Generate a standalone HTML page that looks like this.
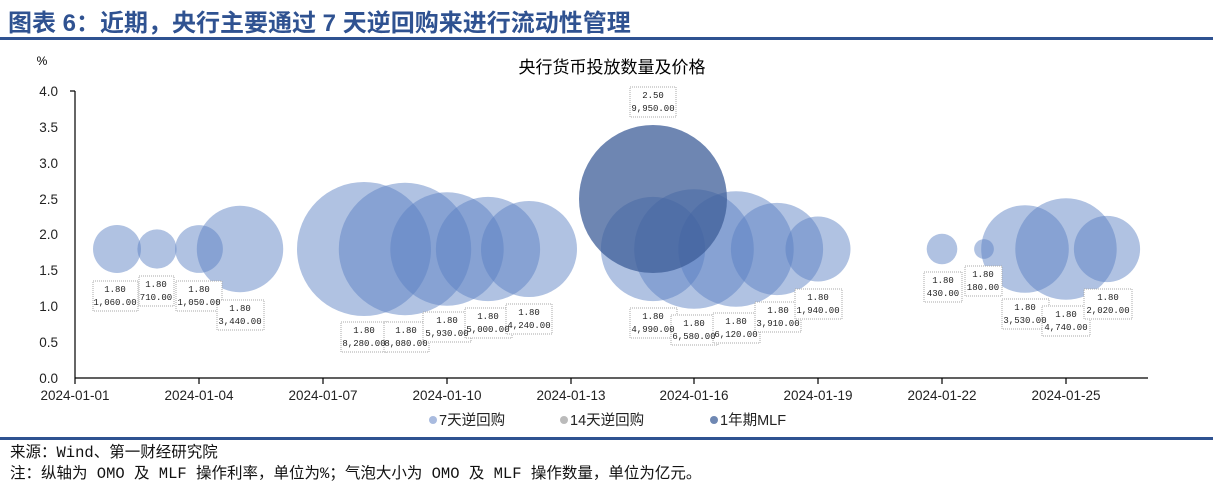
<!DOCTYPE html>
<html><head><meta charset="utf-8"><style>
body{margin:0;background:#fff;width:1213px;height:490px;overflow:hidden;font-family:"Liberation Sans","Noto Sans CJK SC",sans-serif}
</style></head><body>
<svg width="1213" height="490" xmlns="http://www.w3.org/2000/svg" font-family="Liberation Sans, Noto Sans CJK SC, sans-serif">
<text x="8" y="31" font-size="24" font-weight="bold" fill="#2f5291">图表 6：近期，央行主要通过 7 天逆回购来进行流动性管理</text>
<rect x="0" y="37" width="1213" height="3" fill="#2f5291"/>
<text x="612" y="73" font-size="17" text-anchor="middle" fill="#000">央行货币投放数量及价格</text>
<text x="42" y="65" font-size="12" text-anchor="middle">%</text>
<g font-size="13.5" text-anchor="end" fill="#222">
<text x="58" y="96">4.0</text><text x="58" y="132">3.5</text><text x="58" y="168">3.0</text><text x="58" y="204">2.5</text><text x="58" y="239">2.0</text><text x="58" y="275">1.5</text><text x="58" y="311">1.0</text><text x="58" y="347">0.5</text><text x="58" y="383">0.0</text>
</g>
<g stroke="#000" stroke-width="1.2">
<line x1="75" y1="91" x2="75" y2="378"/><line x1="70" y1="91" x2="75" y2="91"/>
<line x1="75" y1="378" x2="1148" y2="378"/>
<line x1="75" y1="378" x2="75" y2="384"/><line x1="199" y1="378" x2="199" y2="384"/><line x1="323" y1="378" x2="323" y2="384"/><line x1="447" y1="378" x2="447" y2="384"/><line x1="571" y1="378" x2="571" y2="384"/><line x1="694" y1="378" x2="694" y2="384"/><line x1="818" y1="378" x2="818" y2="384"/><line x1="942" y1="378" x2="942" y2="384"/><line x1="1066" y1="378" x2="1066" y2="384"/>
</g>
<g font-size="13.5" text-anchor="middle" fill="#222">
<text x="75" y="400">2024-01-01</text><text x="199" y="400">2024-01-04</text><text x="323" y="400">2024-01-07</text><text x="447" y="400">2024-01-10</text><text x="571" y="400">2024-01-13</text><text x="694" y="400">2024-01-16</text><text x="818" y="400">2024-01-19</text><text x="942" y="400">2024-01-22</text><text x="1066" y="400">2024-01-25</text>
</g>
<g fill="#5a7fc2" fill-opacity="0.48">
<circle cx="117" cy="249" r="24"/><circle cx="157" cy="249" r="19.6"/><circle cx="199" cy="249" r="23.9"/><circle cx="240" cy="249" r="43.2"/>
<circle cx="364" cy="249" r="67"/><circle cx="405" cy="249" r="66.2"/><circle cx="447" cy="249" r="56.7"/><circle cx="488" cy="249" r="52.1"/><circle cx="529" cy="249" r="48"/>
<circle cx="653" cy="249" r="52.1"/><circle cx="694" cy="249" r="59.8"/><circle cx="736" cy="249" r="57.7"/><circle cx="777" cy="249" r="46.1"/><circle cx="818" cy="249" r="32.5"/>
<circle cx="942" cy="249" r="15.3"/><circle cx="984" cy="249" r="9.9"/><circle cx="1025" cy="249" r="43.8"/><circle cx="1066" cy="249" r="50.7"/><circle cx="1107" cy="249" r="33.1"/>
</g>
<circle cx="653" cy="199" r="74" fill="#3d5e98" fill-opacity="0.75"/>
<g font-family="Liberation Mono, monospace" font-size="9" fill="#222" text-anchor="middle">
<g fill="#fff" stroke="#aaa" stroke-dasharray="1,1" stroke-width="1">
<rect x="93" y="281" width="45" height="30"/><rect x="139" y="276" width="35" height="30"/><rect x="176" y="281" width="46" height="30"/><rect x="217" y="300" width="47" height="30"/>
<rect x="341" y="322" width="47" height="30"/><rect x="384" y="322" width="45" height="30"/><rect x="423" y="312" width="48" height="30"/><rect x="465" y="308" width="47" height="30"/><rect x="506" y="304" width="46" height="30"/>
<rect x="630" y="87" width="46" height="30"/>
<rect x="630" y="308" width="47" height="30"/><rect x="671" y="315" width="47" height="30"/><rect x="713" y="313" width="47" height="30"/><rect x="755" y="302" width="46" height="30"/><rect x="795" y="289" width="47" height="30"/>
<rect x="924" y="272" width="38" height="30"/><rect x="965" y="266" width="37" height="30"/><rect x="1002" y="299" width="47" height="30"/><rect x="1042" y="306" width="48" height="30"/><rect x="1084" y="289" width="48" height="30"/>
</g>
<text x="115" y="292">1.80</text><text x="115" y="305">1,060.00</text>
<text x="156" y="287">1.80</text><text x="156" y="300">710.00</text>
<text x="199" y="292">1.80</text><text x="199" y="305">1,050.00</text>
<text x="240" y="311">1.80</text><text x="240" y="324">3,440.00</text>
<text x="364" y="333">1.80</text><text x="364" y="346">8,280.00</text>
<text x="406" y="333">1.80</text><text x="406" y="346">8,080.00</text>
<text x="447" y="323">1.80</text><text x="447" y="336">5,930.00</text>
<text x="488" y="319">1.80</text><text x="488" y="332">5,000.00</text>
<text x="529" y="315">1.80</text><text x="529" y="328">4,240.00</text>
<text x="653" y="98">2.50</text><text x="653" y="111">9,950.00</text>
<text x="653" y="319">1.80</text><text x="653" y="332">4,990.00</text>
<text x="694" y="326">1.80</text><text x="694" y="339">6,580.00</text>
<text x="736" y="324">1.80</text><text x="736" y="337">6,120.00</text>
<text x="778" y="313">1.80</text><text x="778" y="326">3,910.00</text>
<text x="818" y="300">1.80</text><text x="818" y="313">1,940.00</text>
<text x="943" y="283">1.80</text><text x="943" y="296">430.00</text>
<text x="983" y="277">1.80</text><text x="983" y="290">180.00</text>
<text x="1025" y="310">1.80</text><text x="1025" y="323">3,530.00</text>
<text x="1066" y="317">1.80</text><text x="1066" y="330">4,740.00</text>
<text x="1108" y="300">1.80</text><text x="1108" y="313">2,020.00</text>
</g>
<g font-size="14.5" fill="#222">
<circle cx="433" cy="420" r="4" fill="#a9bbdf"/><text x="439" y="425">7天逆回购</text>
<circle cx="564" cy="420" r="4" fill="#bbb"/><text x="570" y="425">14天逆回购</text>
<circle cx="714" cy="420" r="4" fill="#6f88b3"/><text x="720" y="425">1年期MLF</text>
</g>
<rect x="0" y="437" width="1213" height="3" fill="#2f5291"/>
<g font-size="15.5" fill="#111" font-family="Liberation Mono, Noto Sans CJK SC, monospace">
<text x="10" y="457">来源：Wind、第一财经研究院</text>
<text x="10" y="478">注：纵轴为 OMO 及 MLF 操作利率，单位为%；气泡大小为 OMO 及 MLF 操作数量，单位为亿元。</text>
</g>
</svg>
</body></html>
